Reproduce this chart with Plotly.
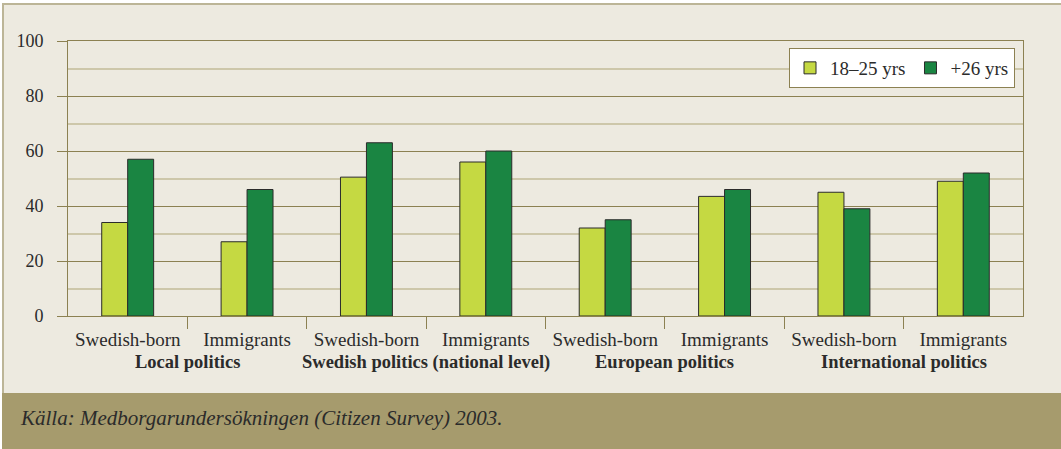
import plotly.graph_objects as go

# ---- data ----
subgroups = ["Swedish-born", "Immigrants", "Swedish-born", "Immigrants",
             "Swedish-born", "Immigrants", "Swedish-born", "Immigrants"]
groups = ["Local politics", "Swedish politics (national level)",
          "European politics", "International politics"]
young = [34, 27, 50.5, 56, 32, 43.5, 45, 49]     # 18–25 yrs
older = [57, 46, 63, 60, 35, 46, 39, 52]         # +26 yrs
series_names = ["18–25 yrs", "+26 yrs"]
y_ticks = [0, 20, 40, 60, 80, 100]
source_text = "Källa: Medborgarundersökningen (Citizen Survey) 2003."

# ---- layout geometry (pixels) ----
W, H = 1061, 449
L, R, T, B = 68, 1023, 41, 316
pw, ph = R - L, B - T

def px(x):
    return (x - L) / pw

def py(y):
    return (B - y) / ph

FONT = "Liberation Serif"
OLIVE = "#8c8152"
MINOR = "#cdc7aa"
LIGHT = "#c5d942"
DARK = "#1a8542"
TEXT = "#2b2b2b"

xs = list(range(len(subgroups)))

fig = go.Figure()
fig.add_trace(go.Bar(x=xs, y=young, name=series_names[0],
                     marker=dict(color=LIGHT, line=dict(color=TEXT, width=1))))
fig.add_trace(go.Bar(x=xs, y=older, name=series_names[1],
                     marker=dict(color=DARK, line=dict(color=TEXT, width=1))))

shapes = [
    # beige panel with border
    dict(type="rect", xref="paper", yref="paper", layer="below",
         x0=px(3), x1=px(W + 5), y0=py(4), y1=py(394),
         fillcolor="#edeae0", line=dict(color="#bcb597", width=2)),
    # source band
    dict(type="rect", xref="paper", yref="paper", layer="below",
         x0=px(2), x1=px(W + 5), y0=py(393), y1=py(H + 5),
         fillcolor="#a69b6d", line=dict(width=0)),
]

annotations = []
for i, g in enumerate(groups):
    annotations.append(dict(x=2 * i + 0.5, xref="x", y=py(362), yref="paper",
                            text="<b>" + g + "</b>", showarrow=False,
                            xanchor="center", yanchor="middle",
                            font=dict(family=FONT, size=18.5, color=TEXT)))
annotations.append(dict(x=px(18), xref="paper", y=py(418), yref="paper",
                        text="<i>" + source_text + "</i>", showarrow=False,
                        xanchor="left", yanchor="middle",
                        font=dict(family=FONT, size=21, color=TEXT)))

fig.update_layout(
    width=W, height=H,
    margin=dict(l=L, r=W - R, t=T, b=H - B, pad=0),
    paper_bgcolor="white", plot_bgcolor="white",
    barmode="group", bargap=0.565, bargroupgap=0,
    font=dict(family=FONT, size=18, color=TEXT),
    shapes=shapes, annotations=annotations,
    showlegend=True,
    legend=dict(orientation="h", x=px(1015), xanchor="right",
                y=py(48), yanchor="top",
                bgcolor="white", bordercolor=OLIVE, borderwidth=1,
                font=dict(family=FONT, size=19, color=TEXT),
                traceorder="normal"),
    xaxis=dict(range=[-0.5, 7.5], tickmode="array", tickvals=xs, ticktext=subgroups,
               ticks="", showgrid=False, zeroline=False,
               showline=True, linecolor=OLIVE, linewidth=1, mirror=True,
               ticklabelstandoff=6, tickfont=dict(family=FONT, size=19, color=TEXT),
               minor=dict(tickmode="array", tickvals=[i + 0.5 for i in range(7)],
                          ticks="outside", ticklen=12, tickcolor=OLIVE, tickwidth=1,
                          showgrid=False)),
    yaxis=dict(range=[0, 100], tickmode="array", tickvals=y_ticks,
               ticks="outside", ticklen=10, tickcolor=OLIVE, tickwidth=1,
               showgrid=True, gridcolor=OLIVE, gridwidth=1,
               zeroline=False, showline=True, linecolor=OLIVE, linewidth=1, mirror=True,
               ticklabelstandoff=10,
               minor=dict(tickmode="array", tickvals=[10, 30, 50, 70, 90],
                          ticks="", showgrid=True, gridcolor=MINOR, gridwidth=1.5)),
)

fig.write_html("out.html", config={"displayModeBar": False},
               post_script="document.body.style.margin='0';document.body.style.overflow='hidden';")
